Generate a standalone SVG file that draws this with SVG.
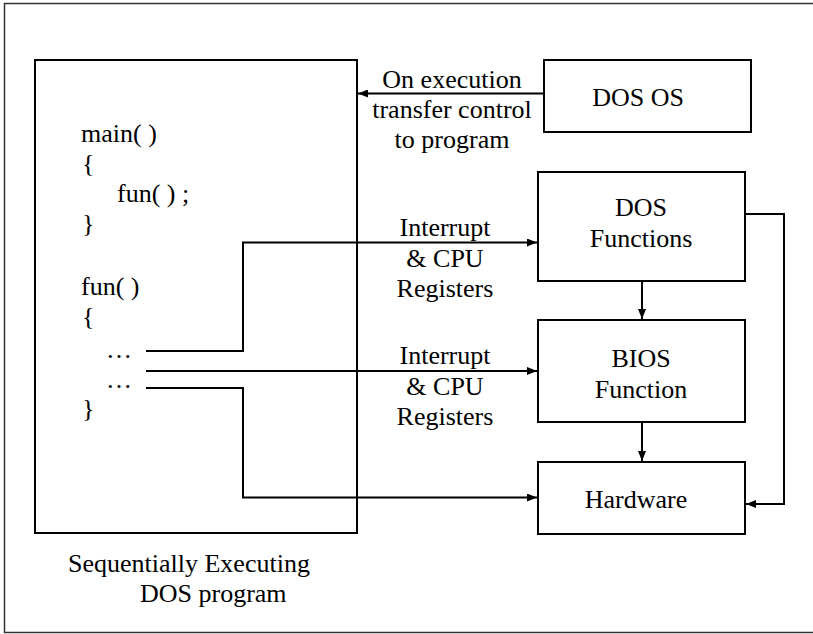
<svg xmlns="http://www.w3.org/2000/svg" width="813" height="634" viewBox="0 0 813 634">
<style>
text{font-size:26px;fill:#000}
.c{text-anchor:middle}
.box{fill:none;stroke:#000;stroke-width:2}
.ln{fill:none;stroke:#000;stroke-width:2}
</style>
<defs>
<marker id="ah" viewBox="0 0 10 8" refX="10" refY="4" markerWidth="10" markerHeight="8" markerUnits="userSpaceOnUse" orient="auto">
<path d="M0,0 L10,4 L0,8 Z" fill="#000"/>
</marker>
</defs>
<rect width="813" height="634" fill="#fff"/>
<path d="M820,3.5 H4.5 V632.5 H820" fill="none" stroke="#333" stroke-width="1.5"/>
<g font-family="Liberation Serif">
<g id="program">
<rect class="box" x="35" y="60" width="322" height="473"/>
<text x="81" y="142">main( )</text>
<text x="82" y="172">{</text>
<text x="117" y="202">fun( ) ;</text>
<text x="82" y="232">}</text>
<text x="81" y="295">fun( )</text>
<text x="82" y="325">{</text>
<text x="106" y="358">…</text>
<text x="106" y="388">…</text>
<text x="82" y="417">}</text>
<text x="68" y="572">Sequentially Executing</text>
<text x="140" y="602">DOS program</text>
</g>
<g id="dos-os">
<rect class="box" x="544" y="60" width="207" height="72"/>
<text class="c" x="638" y="106">DOS OS</text>
</g>
<g id="dos-functions">
<rect class="box" x="538" y="172" width="207" height="109"/>
<text class="c" x="641" y="216">DOS</text>
<text class="c" x="641" y="247">Functions</text>
</g>
<g id="bios-function">
<rect class="box" x="538" y="320" width="207" height="102"/>
<text class="c" x="641" y="367">BIOS</text>
<text class="c" x="641" y="398">Function</text>
</g>
<g id="hardware">
<rect class="box" x="538" y="462" width="207" height="72"/>
<text class="c" x="636" y="508">Hardware</text>
</g>
<g id="connectors">
<path class="ln" d="M544,93.5 H358" marker-end="url(#ah)"/>
<path class="ln" d="M146,351 H243 V242.5 H537" marker-end="url(#ah)"/>
<path class="ln" d="M146,371 H537" marker-end="url(#ah)"/>
<path class="ln" d="M146,388 H243 V497.5 H537" marker-end="url(#ah)"/>
<path class="ln" d="M642,281 V319" marker-end="url(#ah)"/>
<path class="ln" d="M642,422 V461" marker-end="url(#ah)"/>
<path class="ln" d="M745,214 H784 V504 H746" marker-end="url(#ah)"/>
<text class="c" x="452" y="88">On execution</text>
<text class="c" x="452" y="118">transfer control</text>
<text class="c" x="452" y="148">to program</text>
<text class="c" x="445" y="236">Interrupt</text>
<text class="c" x="445" y="267">&amp; CPU</text>
<text class="c" x="445" y="297">Registers</text>
<text class="c" x="445" y="364">Interrupt</text>
<text class="c" x="445" y="395">&amp; CPU</text>
<text class="c" x="445" y="425">Registers</text>
</g>
</g>
</svg>
